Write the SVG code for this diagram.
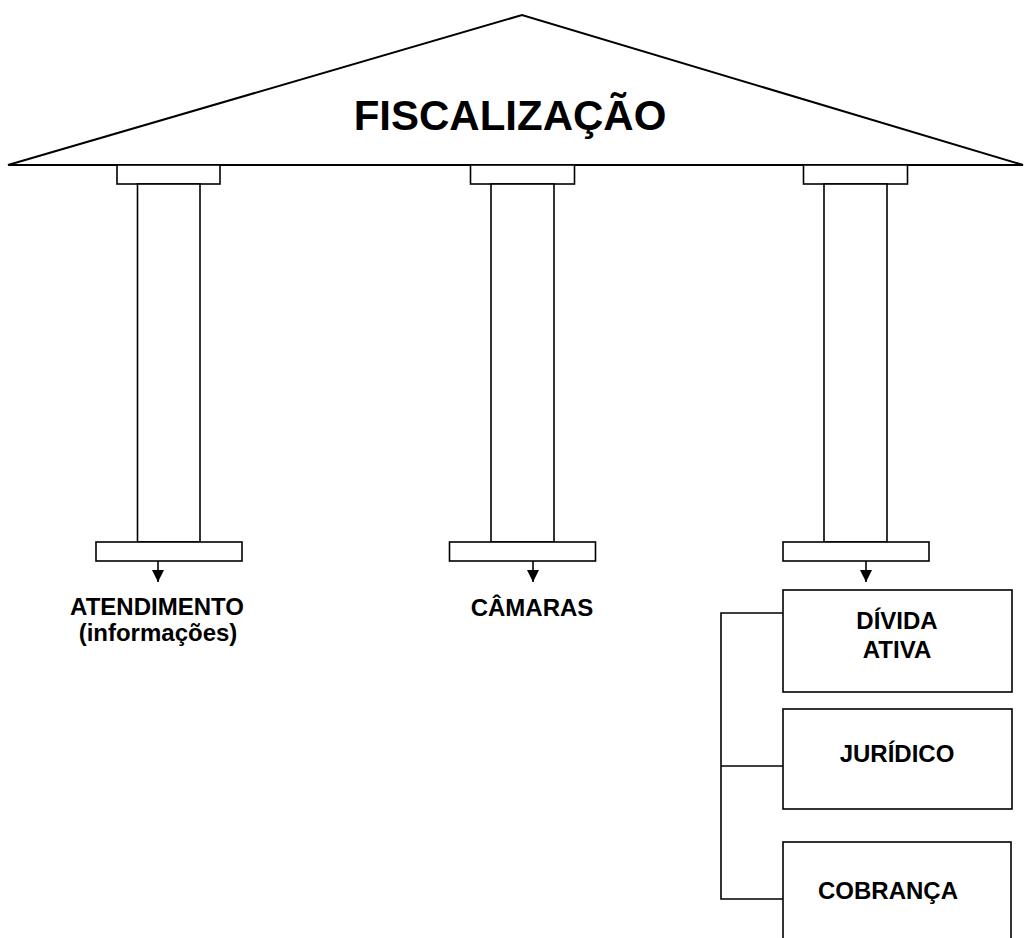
<svg xmlns="http://www.w3.org/2000/svg" width="1024" height="938" viewBox="0 0 1024 938">
<style>
.s{fill:#fff;stroke:#000;stroke-width:1.6}
.c{fill:none;stroke:#000;stroke-width:1.6}
.t{font-family:"Liberation Sans",Arial,sans-serif;font-weight:bold;font-size:24px;fill:#000;text-anchor:middle}
</style>
<defs>
<marker id="ah" viewBox="0 0 12 12" refX="12" refY="6" markerWidth="12" markerHeight="12" markerUnits="userSpaceOnUse" orient="auto">
<path d="M0,0 L12,6 L0,12 Z" fill="#000"/>
</marker>
</defs>
<rect width="1024" height="938" fill="#fff"/>
<g id="pediment">
<polygon points="8,165 522,15 1023,165" fill="#fff" stroke="#000" stroke-width="2"/>
<text x="510" y="130" class="t" style="font-size:42px">FISCALIZAÇÃO</text>
</g>
<g id="column-left">
<rect class="s" x="117" y="165" width="103" height="19"/>
<rect class="s" x="137.5" y="184" width="62.5" height="358"/>
<rect class="s" x="96" y="542" width="146" height="19"/>
</g>
<g id="column-middle">
<rect class="s" x="470.5" y="165" width="104" height="19"/>
<rect class="s" x="491" y="184" width="63" height="358"/>
<rect class="s" x="449.5" y="542" width="146" height="19"/>
</g>
<g id="column-right">
<rect class="s" x="803.5" y="165" width="104" height="19"/>
<rect class="s" x="824" y="184" width="63" height="358"/>
<rect class="s" x="783" y="542" width="146" height="19"/>
</g>
<g id="atendimento">
<text class="t" x="157" y="615">ATENDIMENTO</text>
<text class="t" x="158" y="641">(informações)</text>
</g>
<g id="camaras">
<text class="t" x="532" y="616">CÂMARAS</text>
</g>
<g id="divida-ativa">
<rect class="s" x="783" y="590" width="229" height="102"/>
<text class="t" x="897" y="629">DÍVIDA</text>
<text class="t" x="897" y="658">ATIVA</text>
</g>
<g id="juridico">
<rect class="s" x="783" y="709" width="229" height="100"/>
<text class="t" x="897" y="762">JURÍDICO</text>
</g>
<g id="cobranca">
<rect class="s" x="783" y="842" width="228" height="110"/>
<text class="t" x="888" y="899">COBRANÇA</text>
</g>
<g id="connectors">
<line class="c" x1="158" y1="561" x2="158" y2="582" marker-end="url(#ah)"/>
<line class="c" x1="533" y1="561" x2="533" y2="582" marker-end="url(#ah)"/>
<line class="c" x1="866" y1="561" x2="866" y2="582" marker-end="url(#ah)"/>
<polyline class="c" points="783,613 721,613 721,899 783,899"/>
<line class="c" x1="721" y1="766" x2="783" y2="766"/>
</g>
</svg>
